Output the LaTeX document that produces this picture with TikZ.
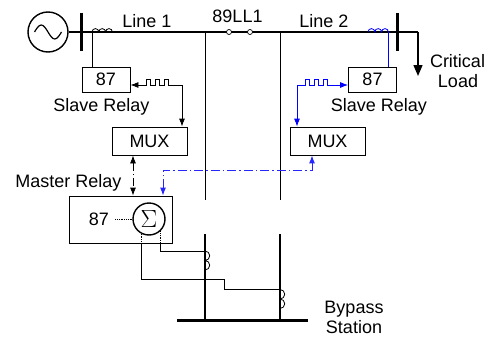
\documentclass[tikz,border=0pt]{standalone}
\usepackage{fontspec}
\setmainfont{Liberation Sans}
\usetikzlibrary{arrows.meta,calc}
\begin{document}
\begin{tikzpicture}[x=1pt,y=-1pt,
  every node/.style={font=\fontsize{18}{20}\selectfont},
  relaybox/.style={draw, line width=0.8pt, minimum width=48pt, minimum height=25pt, inner sep=0pt},
  muxbox/.style={draw, line width=0.8pt, minimum width=75pt, minimum height=28pt, inner sep=0pt},
  lbl/.style={inner sep=0pt, anchor=base},
  wire/.style={line width=1.4pt},
  thin/.style={line width=0.8pt},
  bus/.style={line width=3pt},
  tips/.style={{Latex[length=8pt,width=6pt]}-{Latex[length=8pt,width=6pt]}},
  sw/.style={circle, draw, fill=white, line width=0.7pt, minimum size=5pt, inner sep=0pt},
  dashdot/.style={dash pattern=on 9pt off 3pt on 1.5pt off 3pt}
]
\useasboundingbox (0,0) rectangle (489,337);

% generator
\node[draw, circle, line width=1.4pt, minimum size=40pt, inner sep=0pt] (gen) at (48,32) {};
\draw[line width=1.2pt] ($(gen.center)+(-13.5,0)$) sin ++(6.75,-7) cos ++(6.75,7) sin ++(6.75,7) cos ++(6.75,-7);

% coordinates
\coordinate (busR) at (397,32);
\coordinate (corner) at (418,32);
\coordinate (load) at (418,76);
\coordinate (vL) at (205,32);
\coordinate (vR) at (280,32);

% main line
\draw[wire] (gen.east) -- (busR) -- (corner);
\draw[wire, -{Triangle[length=11pt,width=9pt]}] (corner) -- (load);
\draw[bus] (81,13) -- (81,51);
\draw[bus] (397,13) -- (397,51);

% switch 89LL1
\node[sw] (s1) at (229,32) {};
\node[sw] (s2) at (250,32) {};

% feeders through bypass
\draw[thin] (vL) -- (205,200);
\draw[thin] (vR) -- (280,200);
\draw[line width=1.6pt] (205,234) -- (205,320);
\draw[line width=1.6pt] (280,234) -- (280,320);
\draw[bus] (177,320) -- (308,320);

% left CT
\draw[thin] (92,32) arc[start angle=180,end angle=0,radius=3.4pt]
  arc[start angle=180,end angle=0,radius=3.4pt]
  arc[start angle=180,end angle=0,radius=3.4pt];
% right CT (blue)
\draw[thin, blue] (368,32) arc[start angle=180,end angle=0,radius=3.4pt]
  arc[start angle=180,end angle=0,radius=3.4pt]
  arc[start angle=180,end angle=0,radius=3.4pt];

% relays
\node[relaybox] (relL) at (106,79.5) {87};
\node[relaybox] (relR) at (372.5,79.5) {87};
\draw[thin] (92,32) -- (92,32 |- relL.north);
\draw[thin, blue] (388.4,32) -- (388.4,32 |- relR.north);

\node[muxbox] (muxL) at (149.5,141) {MUX};
\node[muxbox] (muxR) at (327.5,141) {MUX};

% left square wave link
\draw[thin, tips] (relL.east |- 0,85) -- (146,85) -- ++(0,-6) -- ++(4.5,0) -- ++(0,6) -- ++(4.5,0)
  -- ++(0,-6) -- ++(4.5,0) -- ++(0,6) -- ++(4.5,0) -- ++(0,-6) -- ++(4.5,0) -- ++(0,6)
  -- (182,85) -- (182,85 |- muxL.north);
% right square wave link
\draw[thin, blue, tips] (297,85 |- muxR.north) -- (297,85) -- (305,85) -- ++(0,-6) -- ++(4.5,0) -- ++(0,6) -- ++(4.5,0)
  -- ++(0,-6) -- ++(4.5,0) -- ++(0,6) -- ++(4.5,0) -- ++(0,-6) -- ++(4.5,0) -- ++(0,6)
  -- (relR.west |- 0,85);

% master relay
\node[draw, line width=0.8pt, minimum width=103pt, minimum height=47pt, inner sep=0pt] (master) at (120.5,219.5) {};
\node[inner sep=0pt] (m87) at (99,219) {87};
\node[draw, circle, line width=1.4pt, minimum size=32pt, inner sep=0pt, font=\fontsize{23}{25}\selectfont] (sig) at (149,219) {$\Sigma$};
\draw[densely dotted, thin] (m87.east) ++(6,0) -- (sig.west);

% MUX to master
\draw[thin, tips, dash pattern=on 8pt off 3pt on 1pt off 3pt] (133,141 |- muxL.south) -- (133,141 |- master.north);
% blue dash-dot
\draw[line width=1pt, blue!85!white, tips, dashdot] (163,141 |- master.north) -- (163,170) -- (312,170) -- (312,141 |- muxR.south);

\node[lbl] (mrl) at (68.5,187) {Master Relay};

% leads to bypass CTs
\coordinate (la) at (160,243);
\coordinate (lb) at (141,243);
\draw[thin, densely dotted] (sig.south) ++(11,-4.5) -- (la);
\draw[thin, densely dotted] (sig.south) ++(-8,-2) -- (lb);
\draw[thin] (la) -- (160,251) -- (205,251);
\draw[thin] (lb) -- (141,279) -- (224,279) -- (224,289) -- (280,289);
\draw[thin] (205,251) arc[start angle=90,end angle=-90,radius=4.75pt]
  arc[start angle=90,end angle=-90,radius=4.75pt];
\draw[thin] (280,289.5) arc[start angle=90,end angle=-90,radius=4.75pt]
  arc[start angle=90,end angle=-90,radius=4.75pt];

% labels
\node[lbl] (t1) at (147,28) {Line 1};
\node[lbl] (t2) at (324,28) {Line 2};
\node[lbl] (t3) at (237.5,23) {89LL1};
\node[lbl] (t4) at (101.5,111) {Slave Relay};
\node[lbl] (t5) at (379,111) {Slave Relay};
\node[lbl] (t6) at (457.5,67) {Critical};
\node[lbl] (t7) at (458,87) {Load};
\node[lbl] (t8) at (354,313) {Bypass};
\node[lbl] (t9) at (354,333) {Station};
\end{tikzpicture}
\end{document}
